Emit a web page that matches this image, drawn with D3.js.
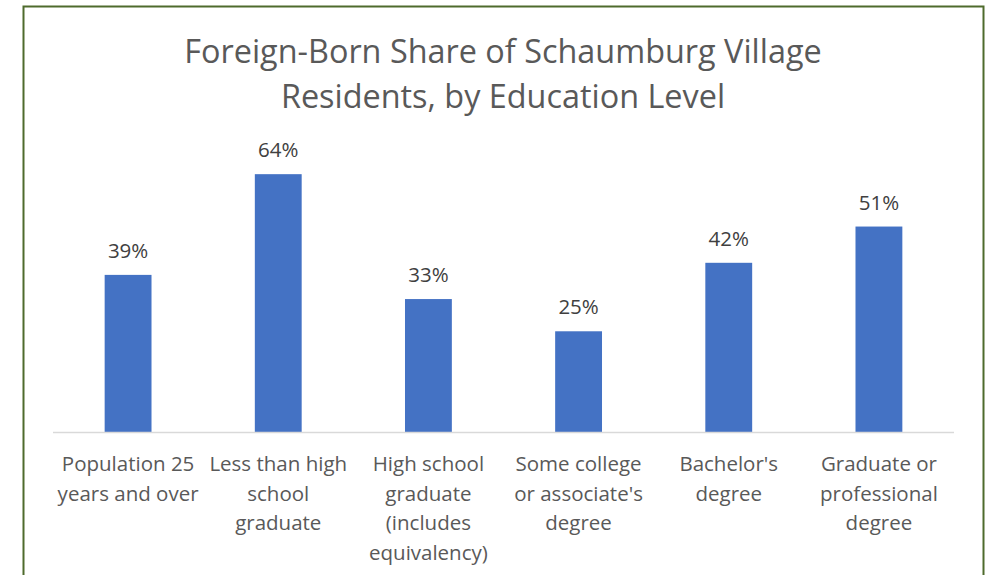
<!DOCTYPE html>
<html>
<head>
<meta charset="utf-8">
<script src="https://cdn.jsdelivr.net/npm/d3@7"></script>
<style>
  body { margin: 0; background: #fff; }
  svg { display: block; font-family: "Open Sans", sans-serif; }
</style>
</head>
<body>
<svg id="chart" width="995" height="575"></svg>
<script>
const categories = [
    ["Population 25", "years and over"],
    ["Less than high", "school", "graduate"],
    ["High school", "graduate", "(includes", "equivalency)"],
    ["Some college", "or associate's", "degree"],
    ["Bachelor's", "degree"],
    ["Graduate or", "professional", "degree"]
];
const values = [39, 64, 33, 25, 42, 51];
const titleLines = ["Foreign-Born Share of Schaumburg Village", "Residents, by Education Level"];

const svg = d3.select("#chart");

// frame
svg.append("rect")
    .attr("x", 23.5).attr("y", 6.5)
    .attr("width", 960).attr("height", 600)
    .attr("fill", "#fff")
    .attr("stroke", "#4e6b2c")
    .attr("stroke-width", 2);

const plot = { left: 53, right: 954, top: 150, bottom: 432 };

const x = d3.scaleBand()
    .domain(d3.range(categories.length))
    .range([plot.left, plot.right])
    .paddingInner(0.688)
    .paddingOuter(0.344);

const y = d3.scaleLinear()
    .domain([0, 70])
    .range([plot.bottom, plot.top]);

// title
svg.append("text")
    .attr("x", 503).attr("y", 63)
    .attr("text-anchor", "middle")
    .attr("font-size", 32.4)
    .attr("fill", "#595959")
    .selectAll("tspan")
    .data(titleLines)
    .join("tspan")
    .attr("x", 503)
    .attr("dy", (d, i) => i ? 45 : 0)
    .text(d => d);

// bars
svg.selectAll("rect.bar")
    .data(values)
    .join("rect")
    .attr("class", "bar")
    .attr("x", (d, i) => x(i))
    .attr("width", x.bandwidth())
    .attr("y", d => y(d))
    .attr("height", d => y(0) - y(d))
    .attr("fill", "#4472c4");

// value labels
svg.selectAll("text.val")
    .data(values)
    .join("text")
    .attr("class", "val")
    .attr("x", (d, i) => x(i) + x.bandwidth() / 2)
    .attr("y", d => y(d) - 17)
    .attr("text-anchor", "middle")
    .attr("font-size", 20.5)
    .attr("fill", "#404040")
    .text(d => d + "%");

// axis line
svg.append("line")
    .attr("x1", plot.left).attr("x2", plot.right)
    .attr("y1", plot.bottom + 0.5).attr("y2", plot.bottom + 0.5)
    .attr("stroke", "#d9d9d9")
    .attr("stroke-width", 1.5);

// category labels
const cat = svg.selectAll("text.cat")
    .data(categories)
    .join("text")
    .attr("class", "cat")
    .attr("text-anchor", "middle")
    .attr("font-size", 20.5)
    .attr("fill", "#595959");

cat.selectAll("tspan")
    .data((d, i) => d.map(s => ({ s, i })))
    .join("tspan")
    .attr("x", d => x(d.i) + x.bandwidth() / 2)
    .attr("y", (d, j) => 471 + j * 29.5)
    .text(d => d.s);
</script>
</body>
</html>
